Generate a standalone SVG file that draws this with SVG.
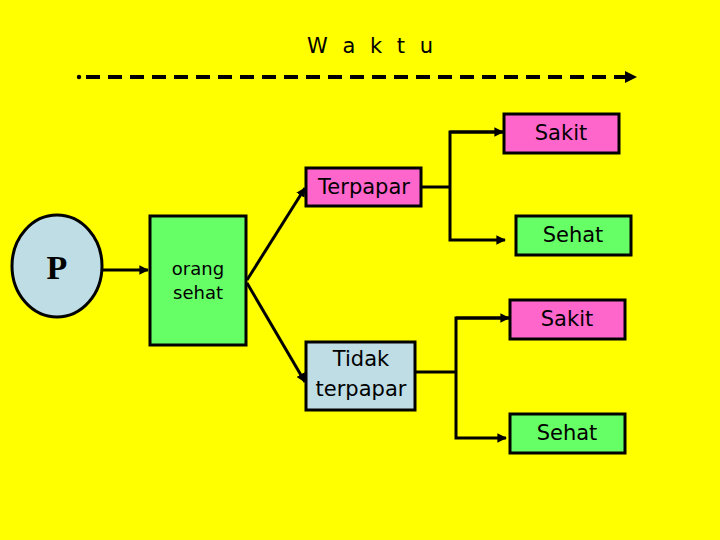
<svg xmlns="http://www.w3.org/2000/svg" width="720" height="540" viewBox="0 0 720 540">
<defs>
<style>
.box{stroke:#000;stroke-width:3}
.pink{fill:#FF66CC}
.green{fill:#66FF66}
.blue{fill:#BEDDE4}
.t{font-family:"DejaVu Sans","Liberation Sans",sans-serif;font-size:21px;fill:#000;text-anchor:middle}
.c{stroke:#000;stroke-width:3;fill:none}
</style>
<marker id="ah" viewBox="0 0 10 10" refX="9" refY="5" markerWidth="3.2" markerHeight="3.2" orient="auto" markerUnits="strokeWidth">
<path d="M0,0 L10,5 L0,10 Z" fill="#000"/>
</marker>
</defs>
<rect width="720" height="540" fill="#FFFF00"/>
<text x="372" y="53" font-family="DejaVu Sans, Liberation Sans, sans-serif" font-size="21" letter-spacing="4" text-anchor="middle">W a k t u</text>
<g id="connectors">
<circle cx="79" cy="77" r="2.2" fill="#000"/>
<line x1="86" y1="77" x2="628" y2="77" stroke="#000" stroke-width="4" stroke-dasharray="14 8"/>
<path d="M625,71 L637,77 L625,83 Z" fill="#000"/>
<line class="c" x1="102" y1="270" x2="148" y2="270" marker-end="url(#ah)"/>
<line class="c" x1="247" y1="280" x2="305" y2="188" marker-end="url(#ah)"/>
<line class="c" x1="247" y1="283" x2="305" y2="382" marker-end="url(#ah)"/>
<polyline class="c" points="422,187 450,187"/>
<polyline class="c" points="503,132 450,132 450,240 505,240" marker-end="url(#ah)"/>
<line class="c" x1="450" y1="132" x2="503" y2="132" marker-end="url(#ah)"/>
<polyline class="c" points="415,372 456,372"/>
<polyline class="c" points="509,318 456,318 456,438 506,438" marker-end="url(#ah)"/>
<line class="c" x1="456" y1="318" x2="509" y2="318" marker-end="url(#ah)"/>
</g>
<g id="P">
<ellipse class="box blue" cx="57" cy="266" rx="45" ry="51"/>
<text x="57" y="279" font-family="Liberation Serif, serif" font-weight="bold" font-size="34" text-anchor="middle">P</text>
</g>
<g id="orang-sehat">
<rect class="box green" x="150" y="216" width="96" height="129"/>
<text x="198" y="275" class="t" style="font-size:18px">orang</text>
<text x="198" y="299" class="t" style="font-size:18px">sehat</text>
</g>
<g id="terpapar">
<rect class="box pink" x="306" y="168" width="115" height="38"/>
<text x="364" y="194" class="t">Terpapar</text>
</g>
<g id="sakit1">
<rect class="box pink" x="504" y="114" width="115" height="39"/>
<text x="561" y="140" class="t">Sakit</text>
</g>
<g id="sehat1">
<rect class="box green" x="516" y="216" width="115" height="39"/>
<text x="573" y="242" class="t">Sehat</text>
</g>
<g id="tidak-terpapar">
<rect class="box blue" x="306" y="342" width="109" height="68"/>
<text x="361" y="366" class="t">Tidak</text>
<text x="361" y="396" class="t">terpapar</text>
</g>
<g id="sakit2">
<rect class="box pink" x="510" y="300" width="115" height="39"/>
<text x="567" y="326" class="t">Sakit</text>
</g>
<g id="sehat2">
<rect class="box green" x="510" y="414" width="115" height="39"/>
<text x="567" y="440" class="t">Sehat</text>
</g>
</svg>
